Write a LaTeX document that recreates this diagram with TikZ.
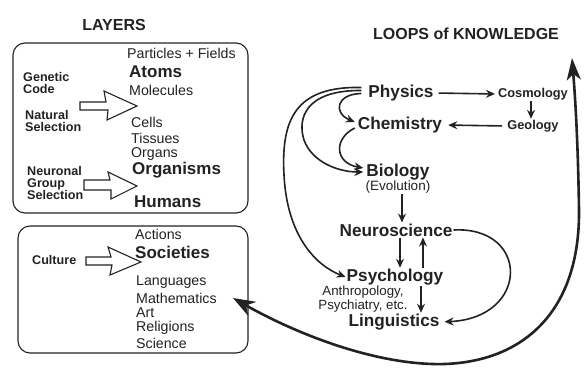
\documentclass[tikz,border=0pt]{standalone}
\usepackage{fontspec}
\setmainfont{Liberation Sans}
\usetikzlibrary{arrows.meta}
\definecolor{ink}{HTML}{222222}
\begin{document}
\begin{tikzpicture}[x=1pt,y=-1pt,color=ink,
  txt/.style={anchor=west,inner sep=0pt,font=\fontsize{14.2}{16}\selectfont},
  big/.style={anchor=west,inner sep=0pt,font=\fontsize{17}{19}\selectfont\bfseries},
  lbl/.style={anchor=west,inner sep=0pt,align=left,font=\fontsize{12.6}{12}\selectfont\bfseries},
  subj/.style={inner sep=1pt,font=\fontsize{17.2}{20}\selectfont\bfseries},
  small/.style={inner sep=1pt,font=\fontsize{12.8}{14}\selectfont\bfseries},
  head/.style={inner sep=0pt,font=\fontsize{16}{19}\selectfont\bfseries},
  box/.style={draw,line width=1.1pt,rounded corners=12pt},
  hollow/.style={draw,line width=1.1pt,line join=miter,fill=white},
  arr/.style={draw,line width=1.6pt,-{Stealth[length=9pt,width=8pt,inset=3pt]}},
  bigarr/.style={draw,line width=2.6pt,{Stealth[length=22pt,width=16pt,inset=7pt]}-{Stealth[length=22pt,width=14pt,inset=6pt]}}
]
\useasboundingbox[fill=white] (0,0) rectangle (587,374);

% ---------- LAYERS ----------
\node[head] (layers) at (114,25) {LAYERS};
\draw[box] (13,43) rectangle (248,213);
\draw[box] (18,226) rectangle (248,353);

\node[txt] (pf) at (127,53) {Particles + Fields};
\node[big] (atoms) at (129,72) {Atoms};
\node[txt] (mol) at (129,90) {Molecules};
\node[txt] (cells) at (131,122) {Cells};
\node[txt] (tis) at (131,138) {Tissues};
\node[txt] (org) at (131,154) {Organs};
\node[big] (orgs) at (132,170) {Organisms};
\node[big] (hum) at (134,202) {Humans};

\node[lbl] (gen) at (23,83) {Genetic\\Code};
\node[lbl] (nat) at (25,121) {Natural\\Selection};
\node[lbl] (neu) at (27,183) {Neuronal\\Group\\Selection};

\draw[hollow] (80,102) -- (106,102) -- (104,91) -- (137,106) -- (107,120) -- (108,110) -- (80,110) -- cycle;
\draw[hollow] (84,180) -- (110,180) -- (108,172) -- (137,186) -- (111,199) -- (111,190) -- (84,190) -- cycle;

\node[txt] (act) at (135,234) {Actions};
\node[big] (soc) at (135,252) {Societies};
\node[lbl] (cul) at (32,260) {Culture};
\draw[hollow] (86,257) -- (111,257) -- (108,247) -- (141,262) -- (110,275) -- (112,265) -- (86,265) -- cycle;
\node[txt] (lang) at (136,282) {Languages};
\node[txt] (math) at (136,298) {Mathematics};
\node[txt] (art) at (136,313) {Art};
\node[txt] (rel) at (136,328) {Religions};
\node[txt] (sci) at (136,343) {Science};

% ---------- LOOPS ----------
\node[head] (loops) at (466,34) {LOOPS of KNOWLEDGE};
\node[subj] (Physics) at (401,93) {Physics};
\node[small] (Cosmology) at (533,94) {Cosmology};
\node[small] (Geology) at (533,126) {Geology};
\node[subj] (Chemistry) at (400,125) {Chemistry};
\node[subj] (Biology) at (398,172) {Biology};
\node[inner sep=1pt,font=\fontsize{13.5}{15}\selectfont] (Evolution) at (398,187) {(Evolution)};
\node[subj] (Neuroscience) at (396,230) {Neuroscience};
\node[subj] (Psychology) at (395,277) {Psychology};
\node[inner sep=0pt,align=center,font=\fontsize{13.3}{12}\selectfont] (Anthro) at (363,299) {Anthropology,\\Psychiatry, etc.};
\node[subj] (Linguistics) at (394,322) {Linguistics};

\draw[arr,shorten <=4pt,shorten >=2pt] (Physics.east) -- (Cosmology.west);
\draw[arr] ([xshift=-2pt]Cosmology.south) -- ([xshift=-2pt]Geology.north);
\draw[arr,shorten <=4pt,shorten >=5pt] (Geology.west) -- (Chemistry.east);
\draw[arr] ([xshift=4pt]Evolution.south) -- ([xshift=4pt]Evolution.south |- Neuroscience.north);
\draw[arr] ([xshift=4pt]Neuroscience.south) -- ([xshift=4pt]Neuroscience.south |- Psychology.north);
\draw[arr] ([xshift=27pt]Neuroscience.south |- Psychology.north) -- ([xshift=27pt]Neuroscience.south);
\draw[arr] ([xshift=26pt]Psychology.south) -- ([xshift=26pt]Psychology.south |- Linguistics.north);

% curves from Physics
\draw[arr] ([shift={(-6pt,5.5pt)}]Physics.west) .. controls (295,86) and (281,120) .. (284,175) .. controls (287,235) and (315,265) .. (Psychology.west);
\draw[arr] ([shift={(-6pt,2.5pt)}]Physics.west) .. controls (306,90) and (297,118) .. (304,140) .. controls (312,162) and (338,172) .. ([xshift=-2pt]Biology.west);
\draw[arr] ([shift={(-6pt,-0.5pt)}]Physics.west) .. controls (336,94) and (333,113) .. ([shift={(-2pt,3pt)}]Chemistry.west);
\draw[arr] ([shift={(-2pt,-3pt)}]Chemistry.west) .. controls (333,139) and (335,163) .. ([shift={(-2pt,4pt)}]Biology.west);
\draw[arr,shorten >=4pt] (Neuroscience.east) .. controls (530,226) and (530,318) .. (Linguistics.east);

% big loop
\coordinate (loopL) at (233,298);
\coordinate (loopT) at (572,58);
\draw[bigarr] (loopL) .. controls (300,336) and (380,366) .. (445,364) .. controls (525,361) and (580,310) .. (579,210) .. controls (578,140) and (575,95) .. (loopT);
\end{tikzpicture}
\end{document}
